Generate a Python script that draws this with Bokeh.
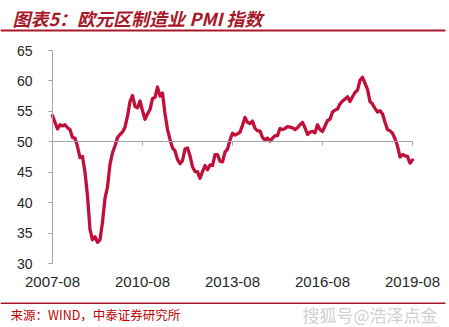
from bokeh.plotting import figure
from bokeh.models import Range1d, FixedTicker, LinearAxis, Label, BoxAnnotation
from bokeh.embed import file_html
from bokeh.resources import INLINE

# Eurozone manufacturing PMI, monthly from 2007-08 to 2019-08
start_year, start_month = 2007, 8
pmi = [
    54.3, 53.2, 52.1, 52.8, 52.6,                                            # 2007
    52.8, 52.3, 52.0, 50.7, 50.6, 49.2, 47.4, 47.6, 45.0, 41.1, 35.6, 33.9,  # 2008
    34.4, 33.5, 33.9, 36.8, 40.7, 42.6, 46.3, 48.2, 49.3, 50.7, 51.2, 51.6,  # 2009
    52.4, 54.2, 56.6, 57.6, 55.8, 55.6, 56.7, 55.1, 53.7, 54.6, 55.3, 57.1,  # 2010
    57.3, 59.0, 57.5, 58.0, 54.6, 52.0, 50.4, 49.0, 48.5, 47.1, 46.4, 46.9,  # 2011
    48.8, 49.0, 47.7, 45.9, 45.1, 45.1, 44.0, 45.1, 46.1, 45.4, 46.2, 46.1,  # 2012
    47.9, 47.9, 46.8, 46.7, 48.3, 48.8, 50.3, 51.4, 51.1, 51.3, 51.6, 52.7,  # 2013
    54.0, 53.2, 53.0, 53.4, 52.2, 51.8, 51.8, 50.7, 50.3, 50.6, 50.1, 50.6,  # 2014
    51.0, 51.0, 52.2, 52.0, 52.2, 52.5, 52.4, 52.3, 52.0, 52.3, 52.8, 53.2,  # 2015
    52.3, 51.2, 51.6, 51.7, 51.5, 52.8, 52.0, 51.7, 52.6, 53.5, 53.7, 54.9,  # 2016
    55.2, 55.4, 56.2, 56.7, 57.0, 57.4, 56.6, 57.4, 58.1, 58.5, 60.1, 60.6,  # 2017
    59.6, 58.6, 56.6, 56.2, 55.5, 54.9, 55.1, 54.6, 53.2, 52.0, 51.8, 51.4,  # 2018
    50.5, 49.3, 47.5, 47.9, 47.7, 47.6, 46.5, 47.0,                          # 2019
]
tick_labels = ["2007-08", "2010-08", "2013-08", "2016-08", "2019-08"]
y_ticks = [30, 35, 40, 45, 50, 55, 60, 65]
y_min, y_max = 30, 65
base_level = 50

title_text = "图表5：欧元区制造业 PMI 指数"
source_text = "来源：WIND，中泰证券研究所"
watermark_text = "搜狐号@浩泽点金"

months = [f"{start_year + (start_month - 1 + i) // 12}-{(start_month - 1 + i) % 12 + 1:02d}"
          for i in range(len(pmi))]
idx = list(range(len(pmi)))
tick_pos = [months.index(t) for t in tick_labels]

# layout (canvas pixels): plot area box inside a full-canvas frame
W, H = 449, 327
PL, PR, PT, PB = 52, 412, 50, 263
n = len(pmi)
px_x = (PR - PL) / (n - 1)
px_y = (PB - PT) / (y_max - y_min)
x_range = Range1d(-PL / px_x, (n - 1) + (W - PR) / px_x)
y_range = Range1d(y_min - (H - PB) / px_y, y_max + PT / px_y)

title_red = "#A8182A"
axis_gray = "#A6A6A6"
text_col = "#262626"

p = figure(width=W, height=H, output_backend="svg", toolbar_location=None,
           x_range=x_range, y_range=y_range,
           min_border=0, min_border_left=0, min_border_right=0,
           min_border_top=0, min_border_bottom=0,
           x_axis_location=None, y_axis_location=None, outline_line_color=None,
           background_fill_color="white", border_fill_color="white")
p.xgrid.visible = False
p.ygrid.visible = False

ya = LinearAxis(fixed_location=0, bounds=(y_min, y_max), ticker=FixedTicker(ticks=y_ticks),
                axis_line_color=axis_gray, major_tick_line_color=axis_gray,
                major_tick_out=4, major_tick_in=0, minor_tick_line_color=None,
                major_label_standoff=16, major_label_text_font="Liberation Sans",
                major_label_text_font_size="14px", major_label_text_color=text_col)
p.add_layout(ya, "left")

xa = LinearAxis(fixed_location=y_min, bounds=(0, n - 1), ticker=FixedTicker(ticks=tick_pos),
                major_label_overrides={pos: lab for pos, lab in zip(tick_pos, tick_labels)},
                axis_line_color=None, major_tick_line_color=None, minor_tick_line_color=None,
                major_tick_out=0, major_tick_in=0,
                major_label_standoff=13, major_label_text_font="Liberation Sans",
                major_label_text_font_size="15px", major_label_text_color=text_col)
p.add_layout(xa, "below")

xa2 = LinearAxis(fixed_location=base_level, bounds=(0, n - 1), ticker=FixedTicker(ticks=tick_pos),
                 axis_line_color=axis_gray, major_tick_line_color=axis_gray,
                 major_tick_out=4, major_tick_in=0, minor_tick_line_color=None,
                 major_label_text_color=None, major_label_text_font_size="1px",
                 major_label_standoff=0)
p.add_layout(xa2, "below")

p.line(idx, pmi, line_color="#C0103A", line_width=3.3, line_join="round", line_cap="round")

# title, rules, source and watermark (screen units: x from left, y from bottom)
p.add_layout(Label(x=12, y=H - 17, x_units="screen", y_units="screen",
                   text=title_text, text_font="Noto Sans CJK SC", text_font_style="bold italic",
                   text_font_size="18px", text_color=title_red,
                   text_baseline="middle", text_align="left"))
p.add_layout(BoxAnnotation(left=0, right=445, top=29, bottom=31,
                           left_units="canvas", right_units="canvas",
                           top_units="canvas", bottom_units="canvas",
                           fill_color=title_red, fill_alpha=1, line_color=None))
p.add_layout(BoxAnnotation(left=0, right=445, top=302, bottom=303.5,
                           left_units="canvas", right_units="canvas",
                           top_units="canvas", bottom_units="canvas",
                           fill_color=title_red, fill_alpha=1, line_color=None))
p.add_layout(Label(x=10, y=H - 314, x_units="screen", y_units="screen",
                   text=source_text, text_font="Noto Sans CJK SC",
                   text_font_size="12.5px", text_color="#C00000",
                   text_baseline="middle", text_align="left"))
p.add_layout(Label(x=302, y=H - 314, x_units="screen", y_units="screen",
                   text=watermark_text, text_font="Noto Sans CJK SC",
                   text_font_size="17px", text_color="#D0D0D0",
                   text_baseline="middle", text_align="left"))

open("out.html", "w").write(file_html(p, INLINE))
